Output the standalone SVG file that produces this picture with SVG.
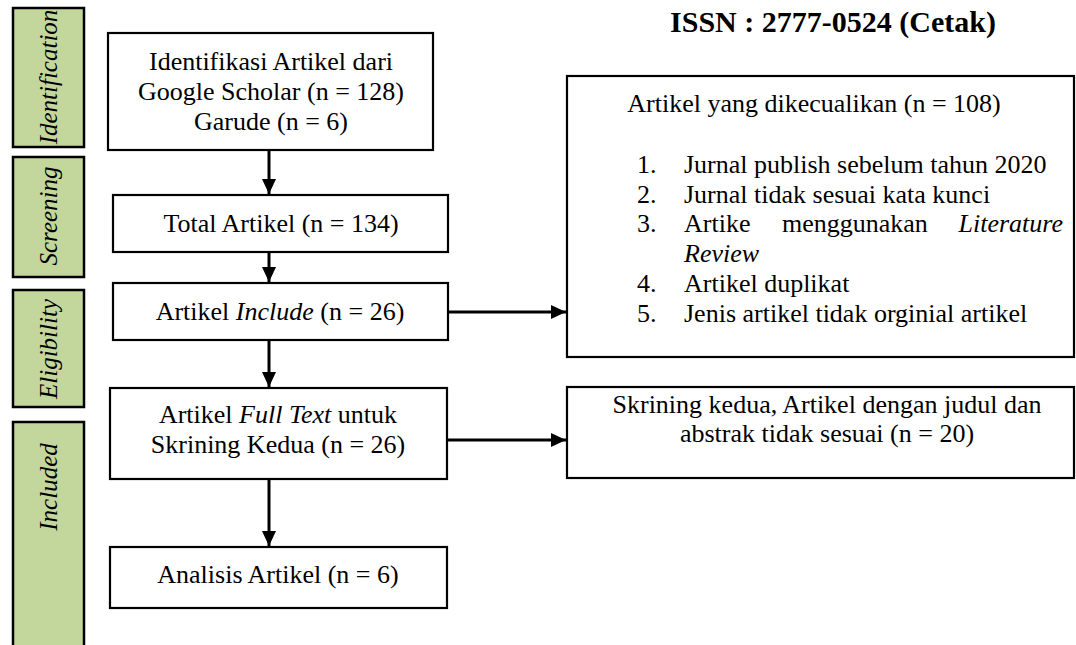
<svg xmlns="http://www.w3.org/2000/svg" width="1076" height="645" viewBox="0 0 1076 645">
<style>
.box{fill:#fff;stroke:#000;stroke-width:2.2}
.side{fill:#C3D69B;stroke:#000;stroke-width:2.5}
.t{font-family:"Liberation Serif","Times New Roman",serif;font-size:26px;fill:#000}
.c{text-anchor:middle}
.h{font-family:"Liberation Serif","Times New Roman",serif;font-size:30px;font-weight:bold;text-anchor:middle;fill:#000}
.sl{font-family:"Liberation Serif","Times New Roman",serif;font-size:25px;font-style:italic;text-anchor:middle;fill:#000}
.i{font-style:italic}
.con{stroke:#000;stroke-width:3;fill:none}
</style>
<defs>
<marker id="ah" markerUnits="userSpaceOnUse" markerWidth="15" markerHeight="14" refX="15" refY="7" orient="auto">
<path d="M0,0 L15,7 L0,14 Z" fill="#000"/>
</marker>
</defs>
<text class="h" x="833" y="32">ISSN : 2777-0524 (Cetak)</text>
<g id="stage-identification">
<rect class="side" x="13" y="8" width="71" height="139"/>
<text class="sl" transform="translate(57,77) rotate(-90)">Identification</text>
</g>
<g id="stage-screening">
<rect class="side" x="13" y="157" width="71" height="120"/>
<text class="sl" transform="translate(57,216) rotate(-90)">Screening</text>
</g>
<g id="stage-eligibility">
<rect class="side" x="13" y="290" width="71" height="117"/>
<text class="sl" transform="translate(57,349) rotate(-90)">Eligibility</text>
</g>
<g id="stage-included">
<rect class="side" x="13" y="422" width="71" height="240"/>
<text class="sl" transform="translate(57,487) rotate(-90)">Included</text>
</g>
<g id="identifikasi">
<rect class="box" x="108" y="33" width="325" height="117"/>
<text class="t c" x="271" y="70">Identifikasi Artikel dari</text>
<text class="t c" x="271" y="100">Google Scholar (n = 128)</text>
<text class="t c" x="271" y="130">Garude (n = 6)</text>
</g>
<g id="total">
<rect class="box" x="113" y="195" width="335" height="57"/>
<text class="t c" x="281" y="232">Total Artikel (n = 134)</text>
</g>
<g id="include">
<rect class="box" x="113" y="283" width="335" height="57"/>
<text class="t c" x="280" y="320">Artikel <tspan class="i">Include</tspan> (n = 26)</text>
</g>
<g id="fulltext">
<rect class="box" x="110" y="388" width="337" height="91"/>
<text class="t c" x="278" y="423">Artikel <tspan class="i">Full Text</tspan> untuk</text>
<text class="t c" x="278" y="453">Skrining Kedua (n = 26)</text>
</g>
<g id="analisis">
<rect class="box" x="110" y="547" width="337" height="61"/>
<text class="t c" x="278" y="583">Analisis Artikel (n = 6)</text>
</g>
<g id="dikecualikan">
<rect class="box" x="567" y="76" width="507" height="281"/>
<text class="t c" x="814" y="112">Artikel yang dikecualikan (n = 108)</text>
<text class="t" x="637" y="173">1.</text><text class="t" x="684" y="173">Jurnal publish sebelum tahun 2020</text>
<text class="t" x="637" y="203">2.</text><text class="t" x="684" y="203">Jurnal tidak sesuai kata kunci</text>
<text class="t" x="637" y="232">3.</text><text class="t" x="684" y="232">Artike</text><text class="t" x="782" y="232">menggunakan</text><text class="t i" x="1063" y="232" text-anchor="end">Literature</text>
<text class="t i" x="684" y="262">Review</text>
<text class="t" x="637" y="292">4.</text><text class="t" x="684" y="292">Artikel duplikat</text>
<text class="t" x="637" y="322">5.</text><text class="t" x="684" y="322">Jenis artikel tidak orginial artikel</text>
</g>
<g id="skrining-kedua">
<rect class="box" x="567" y="387" width="507" height="91"/>
<text class="t c" x="827" y="413">Skrining kedua, Artikel dengan judul dan</text>
<text class="t c" x="827" y="442">abstrak tidak sesuai (n = 20)</text>
</g>
<g id="connectors">
<line class="con" x1="269" y1="150" x2="269" y2="194" marker-end="url(#ah)"/>
<line class="con" x1="269" y1="252" x2="269" y2="282" marker-end="url(#ah)"/>
<line class="con" x1="448" y1="312" x2="566" y2="312" marker-end="url(#ah)"/>
<line class="con" x1="269" y1="340" x2="269" y2="387" marker-end="url(#ah)"/>
<line class="con" x1="447" y1="440" x2="566" y2="440" marker-end="url(#ah)"/>
<line class="con" x1="269" y1="479" x2="269" y2="546" marker-end="url(#ah)"/>
</g>
</svg>
